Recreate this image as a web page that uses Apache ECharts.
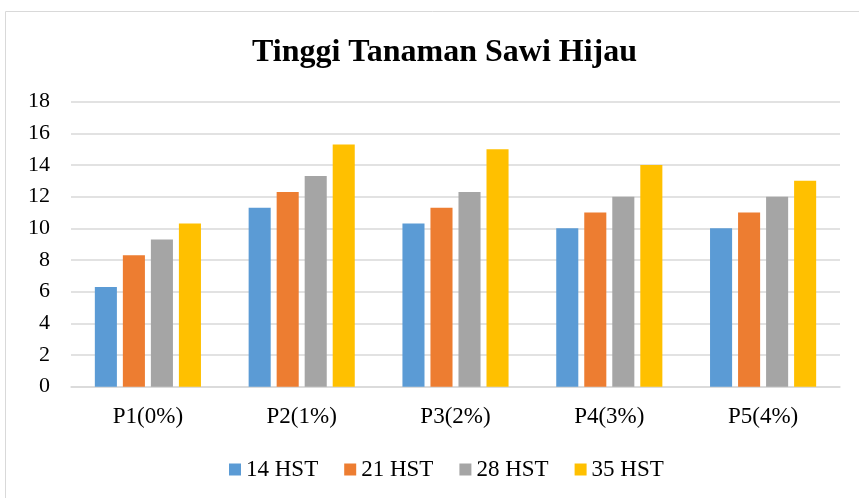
<!DOCTYPE html>
<html><head><meta charset="utf-8">
<script src="https://cdn.jsdelivr.net/npm/echarts@6/dist/echarts.min.js"></script>
<style>html,body{margin:0;padding:0;background:#fff}#c{width:859px;height:498px}</style>
</head><body><div id="c"></div>
<script>
const categories = ['P1(0%)','P2(1%)','P3(2%)','P4(3%)','P5(4%)'];
const seriesNames = ['14 HST','21 HST','28 HST','35 HST'];
const hst14 = [6.3, 11.3, 10.3, 10, 10];
const hst21 = [8.3, 12.3, 11.3, 11, 11];
const hst28 = [9.3, 13.3, 12.3, 12, 12];
const hst35 = [10.3, 15.3, 15, 14, 13];
const colors = ['#5B9BD5','#ED7D31','#A5A5A5','#FFC000'];
const values = [hst14, hst21, hst28, hst35];
const font = '"Liberation Serif","Times New Roman",serif';
const chart = echarts.init(document.getElementById('c'));
chart.setOption({
  animation:false,
  graphic:[{type:'rect',shape:{x:5.5,y:11.5,width:870,height:500},style:{fill:'none',stroke:'#D9D9D9',lineWidth:1}}],
  title:{text:'Tinggi Tanaman Sawi Hijau',left:247,top:32,textStyle:{fontFamily:font,fontWeight:'bold',fontSize:32,color:'#000'}},
  legend:{top:453,left:224,itemWidth:12,itemHeight:12,itemGap:26,icon:'rect',
    textStyle:{fontFamily:font,fontSize:23,color:'#000'},data:seriesNames},
  grid:{left:71,right:19,top:101.7,bottom:111.3,containLabel:false},
  xAxis:{type:'category',data:categories,axisTick:{show:false},
    axisLine:{lineStyle:{color:'#D9D9D9',width:1.5}},
    axisLabel:{fontFamily:font,fontSize:23,color:'#000',margin:19}},
  yAxis:{type:'value',min:0,max:18,interval:2,
    axisLabel:{fontFamily:font,fontSize:22,color:'#000',margin:21},
    splitLine:{lineStyle:{color:'#D9D9D9',width:1.5}},axisLine:{show:false}},
  series: values.map((v,i)=>({name:seriesNames[i],type:'bar',data:v,
    itemStyle:{color:colors[i]},barGap:'27%',barCategoryGap:'31%'}))
});
</script></body></html>
